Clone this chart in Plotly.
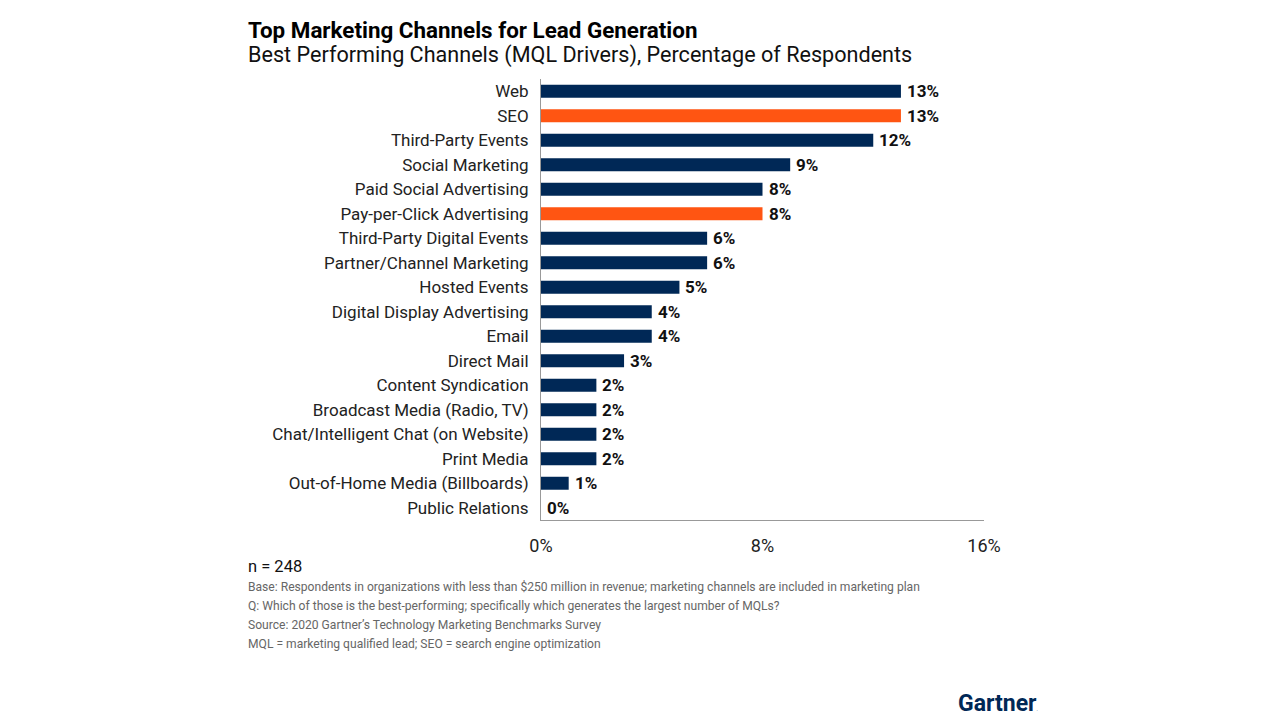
import plotly.graph_objects as go

categories = ["Web", "SEO", "Third-Party Events", "Social Marketing", "Paid Social Advertising",
              "Pay-per-Click Advertising", "Third-Party Digital Events", "Partner/Channel Marketing",
              "Hosted Events", "Digital Display Advertising", "Email", "Direct Mail",
              "Content Syndication", "Broadcast Media (Radio, TV)", "Chat/Intelligent Chat (on Website)",
              "Print Media", "Out-of-Home Media (Billboards)", "Public Relations"]
values = [13, 13, 12, 9, 8, 8, 6, 6, 5, 4, 4, 3, 2, 2, 2, 2, 1, 0]
highlight = ["SEO", "Pay-per-Click Advertising"]
x_ticks = [0, 8, 16]
x_tick_labels = ["0%", "8%", "16%"]

NAVY = "#002856"
ORANGE = "#FF5512"
colors = [ORANGE if c in highlight else NAVY for c in categories]

fig = go.Figure()
fig.add_trace(go.Bar(
    x=values, y=categories, orientation="h",
    marker=dict(color=colors, line=dict(width=0)),
    width=0.53, hoverinfo="skip",
))

for c, v in zip(categories, values):
    fig.add_annotation(x=v, y=c, text=f"<b>{v}%</b>", showarrow=False,
                       xanchor="left", xshift=4,
                       font=dict(family="Roboto, Arial", size=17, color="#111"))

fig.update_layout(
    width=1280, height=720,
    paper_bgcolor="white", plot_bgcolor="white",
    margin=dict(l=541, r=296, t=79, b=200),
    showlegend=False,
    font=dict(family="Roboto, Arial", color="#111"),
    bargap=0.47,
)
fig.update_yaxes(
    categoryorder="array", categoryarray=categories, autorange="reversed",
    showline=True, linecolor="#999", linewidth=1, showgrid=False,
    ticks="outside", ticklen=8, tickcolor="white",
    tickfont=dict(size=17, color="#222"), zeroline=False,
)
fig.update_xaxes(
    range=[0, 16], tickvals=x_ticks, ticktext=x_tick_labels,
    showline=True, linecolor="#999", linewidth=1, showgrid=False, zeroline=False,
    ticks="outside", ticklen=9, tickcolor="white",
    tickfont=dict(size=18, color="#222"),
)

X0 = (248 - 541) / 443
fig.add_annotation(xref="paper", yref="paper", x=X0, y=1 + (79 - 30) / 441, xshift=-2,
                   text="<b>Top Marketing Channels for Lead Generation</b>", showarrow=False,
                   xanchor="left", yanchor="middle", font=dict(size=22.4, color="#000"))
fig.add_annotation(xref="paper", yref="paper", x=X0, y=1 + (79 - 55) / 441, xshift=-2,
                   text="Best Performing Channels (MQL Drivers), Percentage of Respondents", showarrow=False,
                   xanchor="left", yanchor="middle", font=dict(size=21.6, color="#111"))

notes = [
    ("n = 248", 566, 16.5, "#111"),
    ("Base: Respondents in organizations with less than $250 million in revenue; marketing channels are included in marketing plan", 587, 12.1, "#666"),
    ("Q: Which of those is the best-performing; specifically which generates the largest number of MQLs?", 606, 12.1, "#666"),
    ("Source: 2020 Gartner\u2019s Technology Marketing Benchmarks Survey", 625, 12.1, "#666"),
    ("MQL = marketing qualified lead; SEO = search engine optimization", 644, 12.1, "#666"),
]
for t, yy, sz, col in notes:
    fig.add_annotation(xref="paper", yref="paper", x=X0, y=-(yy - 520) / 441, xshift=-2,
                       text=t, showarrow=False, xanchor="left", yanchor="middle",
                       font=dict(size=sz, color=col))

fig.add_annotation(xref="paper", yref="paper", x=(1040 - 541) / 443, y=-(703 - 520) / 441,
                   text="<b>Gartner</b><span style='font-size:5px'>.</span>", showarrow=False,
                   xanchor="right", yanchor="middle",
                   font=dict(family="Roboto, Arial", size=23, color="#002856"))

fig.write_html("out.html", config={"displayModeBar": False},
               post_script="document.body.style.margin='0';document.body.style.overflow='hidden';")
